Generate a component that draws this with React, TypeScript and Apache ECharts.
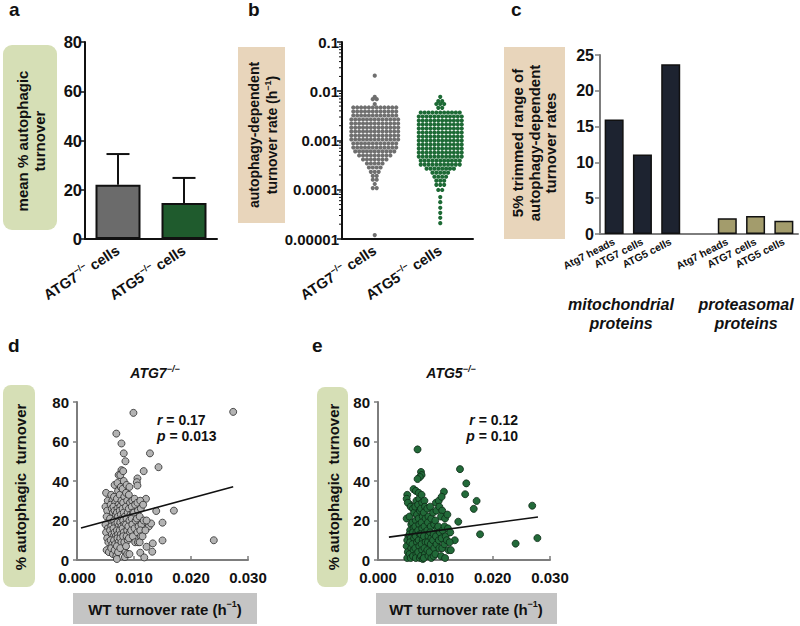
import React, { useEffect, useRef } from 'react';
import * as echarts from 'echarts';

const FONT = '"Liberation Sans", Arial, Helvetica, sans-serif';

// ---------- panel a ----------
const A_CATEGORIES = ['ATG7', 'ATG5'];
const A_MEANS = [22.0, 14.6];
const A_ERR_TOP = [34.5, 24.8];
const A_TICKS_MAX = 80;

// ---------- panel b (rows of the dot plot: [rate, number of dots in row]) ----------
const B_CATEGORIES = ['ATG7', 'ATG5'];
const B_ATG7_ROWS: [number, number][] = [
  [0.0207, 1], [0.0077, 1], [0.0069, 2], [0.0055, 1],
  [0.00468, 12], [0.00388, 12], [0.00322, 12], [0.00267, 13], [0.00221, 13], [0.00183, 13],
  [0.00152, 13], [0.00126, 13], [0.00105, 13], [0.00087, 12], [0.00072, 12], [0.0006, 11],
  [0.000497, 9], [0.000412, 7], [0.000342, 5], [0.000283, 4], [0.000231, 3], [0.000191, 2],
  [0.00016, 2], [0.000131, 1], [0.000108, 2], [0.000012, 1],
];
const B_ATG5_ROWS: [number, number][] = [
  [0.0077, 1], [0.0063, 2], [0.0055, 3], [0.0046, 2],
  [0.0037, 11], [0.00307, 12], [0.00254, 12], [0.00211, 12], [0.00175, 12], [0.00145, 12],
  [0.0012, 12], [0.000996, 12], [0.000826, 12], [0.000685, 12], [0.000568, 12], [0.000471, 12],
  [0.00039, 11], [0.000324, 11], [0.000268, 8], [0.000222, 5], [0.000184, 4], [0.000153, 3],
  [0.000126, 3], [0.000099, 2], [0.000071, 1], [0.000056, 1], [0.000043, 1], [0.000034, 1],
  [0.000027, 1], [0.000021, 1],
];

// ---------- panel c ----------
const C_CATEGORIES = ['Atg7 heads', 'ATG7 cells', 'ATG5 cells', '', 'Atg7 heads', 'ATG7 cells', 'ATG5 cells'];
const C_VALUES: (number | null)[] = [16.0, 11.1, 23.7, null, 2.2, 2.5, 1.85];
const C_GROUP = ['mito', 'mito', 'mito', 'none', 'prot', 'prot', 'prot'];

// ---------- panel d ----------
const D_POINTS: [number, number][] = [
  [0.0099, 74.5], [0.0274, 75], [0.0069, 64], [0.0078, 59], [0.0082, 54], [0.0085, 50], [0.0128, 54],
  [0.0143, 47], [0.0117, 45], [0.0078, 45.5], [0.0073, 43], [0.0106, 41.3], [0.0105, 39.4], [0.0106, 37.7],
  [0.017, 25], [0.0139, 24.8], [0.015, 18.9], [0.024, 10], [0.015, 9.9], [0.0133, 8.4], [0.0132, 4.2],
  [0.0122, 6.7], [0.0111, 3.7], [0.0118, 1.3], [0.0121, 16], [0.0126, 17], [0.013, 18.5], [0.0121, 31],
  [0.0051, 34], [0.0054, 30], [0.005, 27], [0.0053, 25], [0.0052, 22], [0.005, 18], [0.0054, 16],
  [0.0051, 14], [0.0053, 11], [0.0055, 9], [0.0052, 5], [0.0056, 4],
  [0.006, 33], [0.0062, 30], [0.0059, 28], [0.0061, 26], [0.0063, 24], [0.0058, 21], [0.0062, 19],
  [0.006, 17], [0.0058, 15], [0.0061, 13], [0.0064, 12], [0.0059, 10], [0.0062, 8], [0.006, 6], [0.0063, 3],
  [0.0066, 38], [0.0065, 32], [0.0067, 29], [0.0064, 27], [0.0066, 25], [0.0068, 23], [0.0065, 20],
  [0.0067, 18], [0.0064, 16], [0.0066, 14], [0.0068, 12], [0.0065, 10], [0.0067, 8], [0.0066, 5], [0.0069, 2],
  [0.0071, 39], [0.0072, 35], [0.007, 31], [0.0073, 28], [0.0071, 26], [0.007, 24], [0.0072, 22],
  [0.0074, 20], [0.0071, 19], [0.0073, 17], [0.007, 15], [0.0072, 13], [0.0071, 11], [0.0073, 9],
  [0.007, 7], [0.0072, 4], [0.007, 0.5],
  [0.0076, 43], [0.0077, 37], [0.0075, 33], [0.0078, 30], [0.0076, 27], [0.0075, 25], [0.0077, 23],
  [0.0079, 21], [0.0076, 19], [0.0078, 17], [0.0075, 15], [0.0077, 13], [0.0076, 11], [0.0078, 9], [0.0076, 6],
  [0.0081, 45], [0.0082, 40], [0.008, 36], [0.0083, 32], [0.0081, 29], [0.008, 26], [0.0082, 24],
  [0.0084, 22], [0.0081, 20], [0.0083, 18], [0.008, 16], [0.0082, 14], [0.0081, 12], [0.0083, 9],
  [0.0085, 4], [0.0084, 1.5],
  [0.0087, 38], [0.0086, 34], [0.0088, 30], [0.0086, 27], [0.0089, 24], [0.0087, 21], [0.0086, 18],
  [0.0088, 15], [0.0087, 12], [0.0089, 10], [0.0086, 7], [0.0088, 3],
  [0.0092, 37], [0.0091, 33], [0.0093, 29], [0.0091, 26], [0.0094, 23], [0.0092, 20], [0.009, 17],
  [0.0093, 14], [0.0091, 11], [0.0092, 3],
  [0.0097, 30], [0.0096, 27], [0.0098, 24], [0.0096, 21], [0.0097, 18], [0.0095, 15], [0.0098, 12],
  [0.0101, 31], [0.0102, 28], [0.01, 24], [0.0103, 20], [0.0101, 16], [0.0102, 9],
  [0.0106, 29], [0.0107, 25], [0.0105, 21], [0.0108, 17], [0.0106, 14], [0.0107, 9],
  [0.0111, 30], [0.0112, 26], [0.011, 22], [0.0113, 18], [0.0111, 15], [0.0112, 12], [0.011, 9],
  [0.0116, 28], [0.0117, 20], [0.0115, 12], [0.0122, 20], [0.012, 15],
];
const D_FIT: [number, number][] = [[0.0007, 16.2], [0.0274, 37.1]];

// ---------- panel e ----------
const E_POINTS: [number, number][] = [
  [0.0069, 56], [0.0143, 46], [0.0154, 38.8], [0.0152, 33.3], [0.0172, 29.9], [0.0167, 25.9],
  [0.0269, 27.5], [0.0178, 13], [0.024, 8.3], [0.0278, 11.1], [0.014, 19.4], [0.0115, 34.6],
  [0.0075, 44.6], [0.0076, 43], [0.0073, 42], [0.0069, 41], [0.0062, 35.9], [0.0051, 33], [0.005, 31],
  [0.0056, 28], [0.0134, 10],
  [0.0052, 29], [0.005, 21], [0.0053, 12], [0.0051, 10], [0.005, 7], [0.0052, 4], [0.0051, 1],
  [0.0057, 27], [0.0055, 22], [0.0058, 18], [0.0056, 15], [0.0055, 13], [0.0057, 11], [0.0056, 9],
  [0.0058, 6], [0.0055, 3], [0.0057, 1],
  [0.0061, 26], [0.0063, 24], [0.006, 19], [0.0062, 16], [0.0061, 14], [0.0063, 11], [0.006, 8],
  [0.0062, 5], [0.0061, 2],
  [0.0066, 35], [0.0067, 30], [0.0065, 27], [0.0068, 23], [0.0066, 20], [0.0065, 17], [0.0067, 14],
  [0.0066, 12], [0.0068, 9], [0.0065, 6], [0.0067, 3], [0.0066, 1],
  [0.0071, 34], [0.0072, 31], [0.007, 28], [0.0073, 25], [0.0071, 21], [0.0072, 18], [0.007, 15],
  [0.0073, 13], [0.0071, 10], [0.0072, 7], [0.007, 4], [0.0073, 1],
  [0.0076, 33], [0.0077, 29], [0.0075, 26], [0.0078, 22], [0.0076, 19], [0.0077, 16], [0.0075, 13],
  [0.0078, 10], [0.0076, 8], [0.0077, 5], [0.0075, 2], [0.0078, 0.5],
  [0.0081, 30], [0.0082, 27], [0.008, 24], [0.0083, 21], [0.0081, 17], [0.0082, 14], [0.008, 12],
  [0.0083, 9], [0.0081, 6], [0.0082, 3], [0.008, 1],
  [0.0086, 26], [0.0088, 22], [0.0087, 19], [0.0086, 15], [0.0088, 12], [0.0087, 9], [0.0086, 5], [0.0088, 2],
  [0.0091, 27], [0.0093, 21], [0.0092, 17], [0.0091, 14], [0.0093, 11], [0.0092, 8], [0.009, 4], [0.0093, 1],
  [0.0096, 24], [0.0098, 18], [0.0097, 13], [0.0096, 10], [0.0098, 6], [0.0097, 2],
  [0.0101, 29], [0.0102, 25], [0.01, 20], [0.0103, 16], [0.0101, 12], [0.0102, 8], [0.01, 3],
  [0.0106, 30], [0.0107, 27], [0.0105, 17], [0.0108, 14], [0.0106, 10], [0.0107, 6],
  [0.0111, 32], [0.0112, 25], [0.011, 22], [0.0113, 15], [0.0111, 11], [0.0112, 6], [0.011, 2],
  [0.0117, 21], [0.0116, 17], [0.0118, 12], [0.0116, 8], [0.0117, 1],
  [0.0121, 23], [0.0122, 16], [0.012, 10], [0.0123, 5],
  [0.0126, 14], [0.0125, 9], [0.0127, 5],
];
const E_FIT: [number, number][] = [[0.0019, 11.6], [0.0279, 21.8]];

// ---------- styles ----------
const BLACK = '#111111';
const GRAY_AXIS = '#7d7d7d';
const GREEN_BOX = '#d6dfb6';
const TAN_BOX = '#e8d5bb';
const GRAY_BOX = '#c4c4c4';

const supRich = (size: number, italic = false) => ({
  n: { fontFamily: FONT, fontSize: size, fontWeight: 'bold', fontStyle: italic ? 'italic' : 'normal', color: BLACK, lineHeight: size + 4 },
  s: { fontFamily: FONT, fontSize: Math.round(size * 0.62), fontWeight: 'bold', fontStyle: italic ? 'italic' : 'normal', color: BLACK, lineHeight: Math.round(size * 0.62) + 1, verticalAlign: 'top' },
});

function swarm(rows: [number, number][], cat: number) {
  const out: number[][] = [];
  rows.forEach(([v, n]) => {
    for (let i = 0; i < n; i++) out.push([cat, v, i - (n - 1) / 2]);
  });
  return out;
}

const LOG_MINOR: number[][] = [];
[-5, -4, -3, -2].forEach((p) => {
  for (let m = 2; m <= 9; m++) LOG_MINOR.push([0, m * Math.pow(10, p)]);
});

const tickLabel = { fontFamily: FONT, fontSize: 15, fontWeight: 'bold', color: BLACK };

function boxText(x: number, y: number, text: string, rich: any, lineHeight: number, rotate: boolean) {
  return {
    type: 'text', x, y, rotation: rotate ? Math.PI / 2 : 0, z: 10,
    style: {
      text, rich, align: 'center', verticalAlign: 'middle', lineHeight,
      fontFamily: FONT, fontSize: 15, fontWeight: 'bold', fill: BLACK,
    },
  };
}

export default function App() {
  const ref = useRef<HTMLDivElement>(null);
  useEffect(() => {
    document.body.style.margin = '0';
    if (!ref.current) return;
    const chart = echarts.init(ref.current, null, { renderer: 'svg' });

    const catAxisLabel = {
      interval: 0, rotate: 33, margin: 10,
      formatter: (v: string) => `{n|${v}}{s|−/−}{n| cells}`,
      rich: supRich(14.5),
    };

    const option: any = {
      animation: false,
      backgroundColor: '#ffffff',
      grid: [
        { left: 85, top: 42, width: 132, height: 197 },
        { left: 342, top: 42, width: 131, height: 197 },
        { left: 600, top: 55, width: 198, height: 179 },
        { left: 77, top: 402, width: 171, height: 158 },
        { left: 378, top: 402, width: 172, height: 158 },
      ],
      xAxis: [
        {
          gridIndex: 0, type: 'category', data: A_CATEGORIES,
          axisLine: { lineStyle: { color: BLACK, width: 2 } },
          axisTick: { alignWithLabel: true, length: 5, lineStyle: { color: BLACK, width: 1.5 } },
          axisLabel: catAxisLabel,
        },
        {
          gridIndex: 1, type: 'category', data: B_CATEGORIES,
          axisLine: { lineStyle: { color: BLACK, width: 2 } },
          axisTick: { alignWithLabel: true, length: 5, lineStyle: { color: BLACK, width: 1.5 } },
          axisLabel: catAxisLabel,
        },
        {
          gridIndex: 2, type: 'category', data: C_CATEGORIES,
          axisLine: { lineStyle: { color: GRAY_AXIS, width: 2 } },
          axisTick: { show: false },
          axisLabel: { interval: 0, rotate: 27, margin: 7, fontFamily: FONT, fontSize: 10.5, fontWeight: 'bold', color: BLACK },
        },
        {
          gridIndex: 3, type: 'value', min: 0, max: 0.03, interval: 0.01,
          axisLine: { lineStyle: { color: GRAY_AXIS, width: 2 } },
          axisTick: { inside: true, length: 4, lineStyle: { color: GRAY_AXIS, width: 1.5 } },
          splitLine: { show: false },
          axisLabel: { ...tickLabel, margin: 10, formatter: (v: number) => v.toFixed(3) },
        },
        {
          gridIndex: 4, type: 'value', min: 0, max: 0.03, interval: 0.01,
          axisLine: { lineStyle: { color: GRAY_AXIS, width: 2 } },
          axisTick: { inside: true, length: 4, lineStyle: { color: GRAY_AXIS, width: 1.5 } },
          splitLine: { show: false },
          axisLabel: { ...tickLabel, margin: 10, formatter: (v: number) => v.toFixed(3) },
        },
      ],
      yAxis: [
        {
          gridIndex: 0, type: 'value', min: 0, max: A_TICKS_MAX, interval: 20,
          axisLine: { show: true, lineStyle: { color: BLACK, width: 2 } },
          axisTick: { show: true, length: 4, lineStyle: { color: BLACK, width: 1.5 } },
          splitLine: { show: false },
          axisLabel: { ...tickLabel, fontSize: 16.5, margin: 3 },
        },
        {
          gridIndex: 1, type: 'log', logBase: 10, min: 0.00001, max: 0.1,
          axisLine: { show: true, lineStyle: { color: BLACK, width: 2 } },
          axisTick: { show: true, length: 5, lineStyle: { color: BLACK, width: 1.5 } },
          splitLine: { show: false },
          axisLabel: { ...tickLabel, margin: 3, formatter: (v: number) => String(parseFloat(Number(v).toPrecision(3))) },
        },
        {
          gridIndex: 2, type: 'value', min: 0, max: 25, interval: 5,
          axisLine: { show: true, lineStyle: { color: GRAY_AXIS, width: 2 } },
          axisTick: { show: true, length: 5, lineStyle: { color: GRAY_AXIS, width: 1.5 } },
          splitLine: { show: false },
          axisLabel: { ...tickLabel, fontSize: 16, margin: 6 },
        },
        {
          gridIndex: 3, type: 'value', min: 0, max: 80, interval: 20,
          axisLine: { show: true, lineStyle: { color: GRAY_AXIS, width: 2 } },
          axisTick: { show: true, length: 4, lineStyle: { color: GRAY_AXIS, width: 1.5 } },
          splitLine: { show: false },
          axisLabel: { ...tickLabel, margin: 8 },
        },
        {
          gridIndex: 4, type: 'value', min: 0, max: 80, interval: 20,
          axisLine: { show: true, lineStyle: { color: GRAY_AXIS, width: 2 } },
          axisTick: { show: true, length: 4, lineStyle: { color: GRAY_AXIS, width: 1.5 } },
          splitLine: { show: false },
          axisLabel: { ...tickLabel, margin: 8 },
        },
      ],
      series: [
        // panel a bars
        {
          type: 'bar', xAxisIndex: 0, yAxisIndex: 0, barWidth: 45,
          data: A_MEANS.map((v, i) => ({
            value: v,
            itemStyle: { color: i === 0 ? '#6b6b6b' : '#1f5b2d', borderColor: BLACK, borderWidth: 2 },
          })),
        },
        // panel a error bars
        {
          type: 'custom', xAxisIndex: 0, yAxisIndex: 0, z: 5,
          data: A_MEANS.map((m, i) => [i, m, A_ERR_TOP[i]]),
          renderItem: (params: any, api: any) => {
            const base = api.coord([api.value(0), api.value(1)]);
            const top = api.coord([api.value(0), api.value(2)]);
            const st = { stroke: BLACK, lineWidth: 2 };
            return {
              type: 'group',
              children: [
                { type: 'line', shape: { x1: base[0], y1: base[1], x2: top[0], y2: top[1] }, style: st },
                { type: 'line', shape: { x1: top[0] - 11.5, y1: top[1], x2: top[0] + 11.5, y2: top[1] }, style: st },
              ],
            };
          },
        },
        // panel b swarms
        ...[B_ATG7_ROWS, B_ATG5_ROWS].map((rows, ci) => ({
          type: 'custom', xAxisIndex: 1, yAxisIndex: 1,
          data: swarm(rows, ci),
          renderItem: (params: any, api: any) => {
            const p = api.coord([api.value(0), api.value(1)]);
            return {
              type: 'circle',
              shape: { cx: p[0] + api.value(2) * 3.9, cy: p[1], r: 2.1 },
              style: { fill: ci === 0 ? '#6f6f6f' : '#1d6a35' },
            };
          },
        })),
        // panel b minor log ticks
        {
          type: 'custom', xAxisIndex: 1, yAxisIndex: 1, silent: true,
          data: LOG_MINOR,
          renderItem: (params: any, api: any) => {
            const y = api.coord([0, api.value(1)])[1];
            const x = params.coordSys.x;
            return { type: 'line', shape: { x1: x - 3, y1: y, x2: x, y2: y }, style: { stroke: BLACK, lineWidth: 1 } };
          },
        },
        // panel c bars
        {
          type: 'bar', xAxisIndex: 2, yAxisIndex: 2, barWidth: 19,
          data: C_VALUES.map((v, i) => ({
            value: v === null ? '-' : v,
            itemStyle: { color: C_GROUP[i] === 'mito' ? '#1d2330' : '#a39c6c', borderColor: BLACK, borderWidth: 1.5 },
          })),
        },
        // panel d
        {
          type: 'scatter', xAxisIndex: 3, yAxisIndex: 3, symbolSize: 7,
          itemStyle: { color: '#b3b3b3', borderColor: '#2a2a2a', borderWidth: 0.8, opacity: 1 },
          data: D_POINTS,
        },
        {
          type: 'line', xAxisIndex: 3, yAxisIndex: 3, showSymbol: false, z: 4,
          lineStyle: { color: BLACK, width: 1.6 }, data: D_FIT,
        },
        // panel e
        {
          type: 'scatter', xAxisIndex: 4, yAxisIndex: 4, symbolSize: 7,
          itemStyle: { color: '#226a39', borderColor: '#0c2a15', borderWidth: 0.8, opacity: 1 },
          data: E_POINTS,
        },
        {
          type: 'line', xAxisIndex: 4, yAxisIndex: 4, showSymbol: false, z: 4,
          lineStyle: { color: BLACK, width: 1.6 }, data: E_FIT,
        },
      ],
      graphic: [
        // panel letters
        ...[['a', 9, 0], ['b', 248, 0], ['c', 511, 0], ['d', 8, 336], ['e', 312, 336]].map(([t, x, y]) => ({
          type: 'text', x, y, z: 10,
          style: { text: t, fontFamily: FONT, fontSize: 19, fontWeight: 'bold', fill: BLACK, align: 'left', verticalAlign: 'top' },
        })),
        // colored label boxes
        { type: 'rect', shape: { x: 3, y: 45, width: 54, height: 185, r: 9 }, style: { fill: GREEN_BOX } },
        { type: 'rect', shape: { x: 238, y: 47, width: 47, height: 176 }, style: { fill: TAN_BOX } },
        { type: 'rect', shape: { x: 504, y: 47, width: 61, height: 192 }, style: { fill: TAN_BOX } },
        { type: 'rect', shape: { x: 3, y: 385, width: 32, height: 202, r: 8 }, style: { fill: GREEN_BOX } },
        { type: 'rect', shape: { x: 317, y: 387, width: 31, height: 200, r: 8 }, style: { fill: GREEN_BOX } },
        { type: 'rect', shape: { x: 73, y: 593, width: 184, height: 31 }, style: { fill: GRAY_BOX } },
        { type: 'rect', shape: { x: 376, y: 593, width: 181, height: 31 }, style: { fill: GRAY_BOX } },
        // box texts
        boxText(31, 141, 'mean % autophagic\nturnover', undefined, 17, true),
        boxText(263, 135, '{n|autophagy-dependent}\n{n|turnover rate (h}{s|−1}{n|)}', supRich(14), 21, true),
        boxText(534, 143, '5% trimmed range of\nautophagy-dependent\nturnover rates', undefined, 16.5, true),
        boxText(20, 487, '% autophagic  turnover', undefined, 17, true),
        boxText(333, 487, '% autophagic  turnover', undefined, 17, true),
        boxText(165, 609, '{n|WT turnover rate (h}{s|−1}{n|)}', supRich(15), 19, false),
        boxText(466, 609, '{n|WT turnover rate (h}{s|−1}{n|)}', supRich(15), 19, false),
        // scatter titles
        boxText(155, 373, '{n|ATG7}{s|−/−}', supRich(14, true), 18, false),
        boxText(451, 373, '{n|ATG5}{s|−/−}', supRich(14, true), 18, false),
        // panel c group labels
        { type: 'text', x: 621, y: 314, z: 10, style: { text: 'mitochondrial\nproteins', align: 'center', verticalAlign: 'middle', lineHeight: 19, fontFamily: FONT, fontSize: 16, fontWeight: 'bold', fontStyle: 'italic', fill: BLACK } },
        { type: 'text', x: 746, y: 314, z: 10, style: { text: 'proteasomal\nproteins', align: 'center', verticalAlign: 'middle', lineHeight: 19, fontFamily: FONT, fontSize: 16, fontWeight: 'bold', fontStyle: 'italic', fill: BLACK } },
        // statistics
        ...[[157, 420, '{i|r}{n| = 0.17}', 'left'], [157, 436, '{i|p}{n| = 0.013}', 'left'],
            [518, 420, '{i|r}{n| = 0.12}', 'right'], [518, 436, '{i|p}{n| = 0.10}', 'right']].map(([x, y, t, al]) => ({
          type: 'text', x, y, z: 10,
          style: {
            text: t, align: al, verticalAlign: 'middle',
            rich: {
              i: { fontFamily: FONT, fontSize: 14, fontWeight: 'bold', fontStyle: 'italic', fill: BLACK },
              n: { fontFamily: FONT, fontSize: 14, fontWeight: 'bold', fill: BLACK },
            },
          },
        })),
      ],
    };
    chart.setOption(option);
    return () => chart.dispose();
  }, []);
  return <div ref={ref} style={{ width: 800, height: 626 }} />;
}
